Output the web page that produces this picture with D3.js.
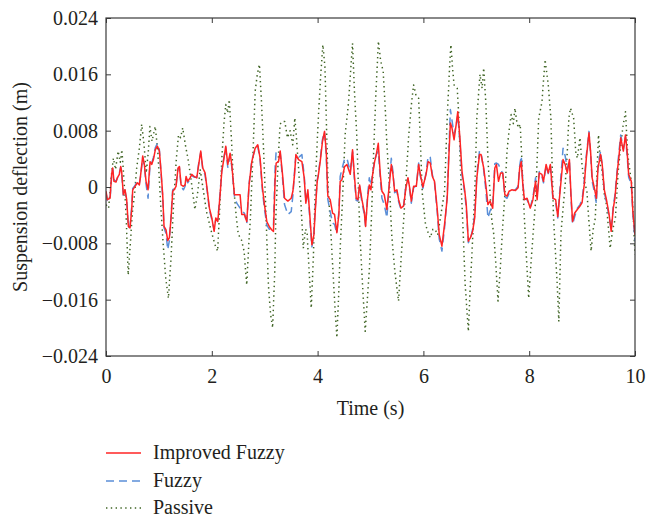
<!DOCTYPE html>
<html><head><meta charset="utf-8">
<script src="https://cdn.jsdelivr.net/npm/d3@7"></script>
<style>html,body{margin:0;padding:0;background:#fff}svg{display:block}text{font-family:"Liberation Serif","DejaVu Serif",serif;fill:#231f20}</style>
</head><body><svg id="c" width="646" height="519"></svg>
<script>
// ---- data (time s, deflection m) ----
const xTicks = [0, 2, 4, 6, 8, 10];
const yTicks = [-0.024, -0.016, -0.008, 0, 0.008, 0.016, 0.024];
const seriesNames = ["Improved Fuzzy", "Fuzzy", "Passive"];

const improvedFuzzy = [[0,-0.0006],[0.025,-0.0018],[0.076,-0.0016],[0.107,0.0018],[0.126,0.0027],[0.151,0.0008],[0.189,0.0007],[0.214,0.0013],[0.252,0.0018],[0.278,0.0029],[0.296,0.0022],[0.328,-0.0011],[0.36,-0.0004],[0.391,-0.0018],[0.423,-0.0056],[0.454,-0.0058],[0.486,-0.0032],[0.505,-0.0004],[0.549,0.0001],[0.593,0.0006],[0.631,0.0003],[0.656,0.0018],[0.694,0.0044],[0.725,0.0032],[0.757,0.0008],[0.795,-0.0004],[0.833,0.0036],[0.864,0.0032],[0.896,0.0039],[0.933,0.0053],[0.971,0.0058],[1.009,0.0051],[1.041,0.0022],[1.072,-0.0011],[1.097,-0.0056],[1.135,-0.0061],[1.167,-0.0076],[1.198,-0.0072],[1.23,-0.0044],[1.261,-0.0006],[1.287,-0.0004],[1.324,0.0001],[1.362,0.0027],[1.388,0.0029],[1.419,0.0003],[1.463,0.0001],[1.495,0.0003],[1.514,0.0015],[1.545,0.0008],[1.589,0.0013],[1.621,0.0018],[1.665,0.0015],[1.716,0.0013],[1.753,0.0032],[1.791,0.0051],[1.829,0.0027],[1.873,0.002],[1.917,-0.0006],[1.955,-0.003],[2.0,-0.0044],[2.044,-0.0063],[2.075,-0.0044],[2.113,-0.0049],[2.157,-0.0011],[2.189,0.0022],[2.22,0.0036],[2.264,0.0058],[2.302,0.0032],[2.346,0.0048],[2.377,0.0032],[2.428,-0.0011],[2.472,-0.0011],[2.535,-0.0011],[2.566,-0.0039],[2.617,-0.0039],[2.661,-0.0049],[2.705,0.0003],[2.756,0.0036],[2.819,0.0055],[2.869,0.006],[2.913,0.0041],[2.957,-0.0001],[2.995,-0.0025],[3.04,-0.0049],[3.085,-0.0056],[3.135,-0.0061],[3.166,-0.0063],[3.198,0.0013],[3.217,0.0034],[3.261,0.0036],[3.293,0.0051],[3.337,0.0018],[3.375,-0.0016],[3.438,-0.002],[3.501,-0.0016],[3.533,-0.0006],[3.564,0.0018],[3.59,0.0046],[3.64,0.0039],[3.703,0.0036],[3.747,0.0013],[3.778,-0.0023],[3.816,-0.0004],[3.848,-0.0035],[3.892,-0.0082],[3.93,-0.0068],[3.955,-0.0035],[3.993,0.0008],[4.011,0.0015],[4.049,0.0036],[4.093,0.0065],[4.131,0.0079],[4.163,0.0051],[4.194,-0.0013],[4.238,-0.0018],[4.283,-0.0037],[4.32,-0.0039],[4.364,-0.0065],[4.402,-0.0039],[4.427,0.0008],[4.459,0.001],[4.51,0.0029],[4.554,0.0032],[4.617,0.0018],[4.661,0.0053],[4.699,0.0013],[4.73,-0.0016],[4.762,-0.0018],[4.794,0.0003],[4.838,-0.0018],[4.882,-0.0035],[4.907,-0.0056],[4.945,-0.0016],[4.977,0.0003],[5.008,-0.0004],[5.04,0.0018],[5.078,0.0036],[5.109,0.0046],[5.147,0.0062],[5.185,0.0018],[5.216,-0.0006],[5.26,-0.0011],[5.31,-0.0032],[5.355,0.0003],[5.393,0.0032],[5.424,0.0018],[5.456,-0.0006],[5.5,-0.0004],[5.532,-0.0018],[5.576,-0.003],[5.626,-0.0027],[5.67,-0.0001],[5.708,0.0013],[5.74,-0.0001],[5.771,-0.002],[5.815,0.0001],[5.866,0.0001],[5.91,0.0032],[5.942,0.0018],[5.99,0],[6.05,0.0018],[6.09,0.0036],[6.13,0.0034],[6.17,0.0015],[6.21,0.0008],[6.26,-0.003],[6.3,-0.0068],[6.35,-0.0084],[6.4,-0.0053],[6.45,-0.0016],[6.48,0.0041],[6.51,0.0091],[6.54,0.0084],[6.58,0.0067],[6.62,0.0089],[6.65,0.0107],[6.69,0.007],[6.73,0.0022],[6.78,-0.0004],[6.81,-0.0025],[6.85,-0.0077],[6.89,-0.0072],[6.93,-0.0063],[6.97,-0.0044],[7.01,0.0013],[7.06,0.0046],[7.09,0.0046],[7.14,0.0027],[7.18,0.0003],[7.22,-0.0025],[7.26,-0.002],[7.31,-0.003],[7.35,0.0027],[7.38,0.0032],[7.42,0.0008],[7.46,0.002],[7.5,0.002],[7.54,-0.0011],[7.58,-0.0013],[7.62,-0.0006],[7.67,-0.0004],[7.74,-0.0005],[7.79,-0.0001],[7.82,0.0027],[7.85,0.0036],[7.88,0.0003],[7.91,-0.0018],[7.96,-0.0016],[8.02,-0.003],[8.07,-0.0018],[8.12,0.0008],[8.15,-0.0018],[8.19,0.002],[8.24,0.0018],[8.27,0.0008],[8.32,0.0032],[8.36,0.002],[8.4,0.0032],[8.45,-0.0016],[8.5,-0.0018],[8.54,-0.0042],[8.59,-0.0001],[8.64,0.0039],[8.68,0.0032],[8.72,0.002],[8.76,0.0039],[8.79,-0.0011],[8.82,-0.0049],[8.86,-0.0037],[8.91,-0.0032],[8.96,-0.0027],[9.0,-0.0022],[9.04,0.0003],[9.08,0.0041],[9.13,0.0077],[9.16,0.0051],[9.19,0.0013],[9.23,-0.0001],[9.27,-0.0016],[9.3,0.0027],[9.35,0.0046],[9.38,0.0032],[9.42,-0.0004],[9.46,-0.0018],[9.51,-0.0039],[9.55,-0.0063],[9.59,-0.003],[9.62,-0.0016],[9.66,0.0018],[9.7,0.0046],[9.73,0.007],[9.78,0.0051],[9.82,0.0074],[9.85,0.0051],[9.88,0.0018],[9.93,0.0008],[9.96,-0.0035],[10,-0.0068]];

const fuzzy = [[0,-0.0008],[0.025,-0.0019],[0.076,-0.0018],[0.107,0.0016],[0.126,0.0026],[0.151,0.001],[0.189,0.0008],[0.214,0.0012],[0.252,0.002],[0.278,0.0028],[0.296,0.002],[0.328,-0.0013],[0.36,-0.0005],[0.391,-0.002],[0.423,-0.0058],[0.454,-0.0056],[0.486,-0.0028],[0.505,-0.0002],[0.549,0.0002],[0.593,0.0009],[0.631,0.0005],[0.656,0.0016],[0.694,0.0042],[0.725,0.003],[0.757,0.0004],[0.795,-0.0016],[0.833,0.0033],[0.864,0.0034],[0.896,0.0042],[0.933,0.0056],[0.971,0.0062],[1.009,0.0053],[1.041,0.0019],[1.072,-0.0015],[1.097,-0.0058],[1.135,-0.0066],[1.167,-0.0089],[1.198,-0.0076],[1.23,-0.004],[1.261,-0.0004],[1.287,-0.0002],[1.324,0.0002],[1.362,0.0026],[1.388,0.0028],[1.419,0.0001],[1.463,-0.0004],[1.495,0.0001],[1.514,0.0012],[1.545,0.0006],[1.589,0.0011],[1.621,0.0016],[1.665,0.0014],[1.716,0.0014],[1.753,0.0034],[1.791,0.0049],[1.829,0.0025],[1.873,0.0017],[1.917,-0.0008],[1.955,-0.0033],[2.0,-0.0046],[2.044,-0.0061],[2.075,-0.0046],[2.113,-0.0047],[2.157,-0.0008],[2.189,0.0024],[2.22,0.0038],[2.264,0.0056],[2.302,0.0028],[2.346,0.0044],[2.377,0.0029],[2.428,-0.0013],[2.472,-0.0023],[2.535,-0.003],[2.566,-0.0035],[2.617,-0.0037],[2.661,-0.0052],[2.705,0.0005],[2.756,0.0038],[2.819,0.0054],[2.869,0.0058],[2.913,0.0038],[2.957,-0.0005],[2.995,-0.0031],[3.04,-0.0054],[3.085,-0.006],[3.135,-0.0058],[3.166,-0.0055],[3.198,0.003],[3.217,0.0051],[3.261,0.0048],[3.293,0.0049],[3.337,0.0012],[3.375,-0.0025],[3.438,-0.0039],[3.501,-0.0035],[3.533,-0.0012],[3.564,0.0022],[3.59,0.0046],[3.64,0.0042],[3.703,0.0046],[3.747,0.0016],[3.778,-0.0021],[3.816,-0.0006],[3.848,-0.004],[3.892,-0.0085],[3.93,-0.0064],[3.955,-0.003],[3.993,0.001],[4.011,0.0017],[4.049,0.0039],[4.093,0.0068],[4.131,0.0078],[4.163,0.0045],[4.194,-0.0018],[4.238,-0.0035],[4.283,-0.0051],[4.32,-0.0053],[4.364,-0.0066],[4.402,-0.0035],[4.427,0.0015],[4.459,0.0025],[4.51,0.004],[4.554,0.0041],[4.617,0.0022],[4.661,0.005],[4.699,0.0008],[4.73,-0.0019],[4.762,-0.002],[4.794,0.0001],[4.838,-0.0022],[4.882,-0.0039],[4.907,-0.0055],[4.945,-0.0012],[4.977,0.0013],[5.008,0.0002],[5.04,0.002],[5.078,0.0038],[5.109,0.0046],[5.147,0.0051],[5.185,0.0012],[5.216,-0.0016],[5.26,-0.0025],[5.31,-0.0044],[5.355,0.0005],[5.393,0.0041],[5.424,0.0022],[5.456,-0.0008],[5.5,-0.0006],[5.532,-0.0021],[5.576,-0.0032],[5.626,-0.0026],[5.67,0.0002],[5.708,0.0012],[5.74,-0.0004],[5.771,-0.0023],[5.815,-0.0001],[5.866,0.0002],[5.91,0.0034],[5.942,0.0015],[5.99,-0.0002],[6.05,0.002],[6.09,0.0044],[6.13,0.0042],[6.17,0.0017],[6.21,0.0006],[6.26,-0.0034],[6.3,-0.0074],[6.35,-0.0091],[6.4,-0.0058],[6.45,-0.0012],[6.48,0.0048],[6.51,0.011],[6.54,0.0095],[6.58,0.0075],[6.62,0.0088],[6.65,0.0102],[6.69,0.0064],[6.73,0.0016],[6.78,-0.0008],[6.81,-0.003],[6.85,-0.0079],[6.89,-0.0074],[6.93,-0.006],[6.97,-0.004],[7.01,0.0018],[7.06,0.0051],[7.09,0.0049],[7.14,0.0024],[7.18,-0.0004],[7.22,-0.0044],[7.26,-0.0034],[7.31,-0.0028],[7.35,0.0033],[7.38,0.0034],[7.42,0.0032],[7.46,0.0025],[7.5,0.0019],[7.54,-0.0014],[7.58,-0.0016],[7.62,-0.0009],[7.67,-0.0006],[7.74,-0.0004],[7.79,0.0001],[7.82,0.003],[7.85,0.0044],[7.88,0.0006],[7.91,-0.0017],[7.96,-0.0018],[8.02,-0.0029],[8.07,-0.0015],[8.12,0.0013],[8.15,-0.0012],[8.19,0.0022],[8.24,0.0015],[8.27,0.0006],[8.32,0.003],[8.36,0.0019],[8.4,0.003],[8.45,-0.0019],[8.5,-0.0022],[8.54,-0.0044],[8.59,0.0006],[8.64,0.0055],[8.68,0.0044],[8.72,0.0026],[8.76,0.0038],[8.79,-0.0016],[8.82,-0.0053],[8.86,-0.0042],[8.91,-0.003],[8.96,-0.0025],[9.0,-0.0018],[9.04,0.0008],[9.08,0.0045],[9.13,0.0079],[9.16,0.0048],[9.19,0.0008],[9.23,-0.0006],[9.27,-0.0023],[9.3,0.0032],[9.35,0.0051],[9.38,0.003],[9.42,-0.0008],[9.46,-0.0021],[9.51,-0.0042],[9.55,-0.0061],[9.59,-0.0026],[9.62,-0.0012],[9.66,0.0022],[9.7,0.0052],[9.73,0.0074],[9.78,0.0054],[9.82,0.0071],[9.85,0.0046],[9.88,0.0014],[9.93,0.0004],[9.96,-0.0039],[10,-0.0077]];

const passive = [[0,-0.0025],[0.05,-0.003],[0.1,0.0015],[0.14,0.0041],[0.18,0.0025],[0.23,0.0051],[0.27,0.0035],[0.3,0.0053],[0.34,0.001],[0.38,-0.004],[0.42,-0.0125],[0.46,-0.008],[0.5,-0.0035],[0.54,-0.001],[0.58,0.0027],[0.63,0.0055],[0.675,0.0089],[0.72,0.006],[0.76,0.002],[0.8,0.005],[0.83,0.0086],[0.87,0.0065],[0.93,0.0086],[0.98,0.005],[1.03,-0.002],[1.08,-0.008],[1.13,-0.013],[1.18,-0.0158],[1.23,-0.01],[1.28,-0.002],[1.33,0.004],[1.37,0.0074],[1.41,0.007],[1.45,0.0084],[1.5,0.006],[1.55,0.004],[1.6,0.0015],[1.68,-0.0032],[1.73,-0.001],[1.78,0.0025],[1.82,0.0005],[1.9,-0.0035],[1.98,-0.006],[2.06,-0.0082],[2.11,-0.0091],[2.15,-0.003],[2.19,0.0041],[2.23,0.009],[2.264,0.0117],[2.3,0.0105],[2.33,0.0124],[2.37,0.007],[2.41,0.0003],[2.46,-0.004],[2.5,-0.0067],[2.56,-0.0075],[2.61,-0.0091],[2.66,-0.0139],[2.7,-0.008],[2.73,-0.0044],[2.78,0.005],[2.82,0.0136],[2.86,0.016],[2.9,0.0174],[2.94,0.012],[2.98,0.0051],[3.02,-0.003],[3.07,-0.0139],[3.11,-0.018],[3.15,-0.02],[3.19,-0.012],[3.21,-0.0044],[3.25,0.003],[3.29,0.0089],[3.33,0.0093],[3.38,0.0093],[3.43,0.007],[3.48,0.008],[3.53,0.006],[3.57,0.0098],[3.6,0.007],[3.64,0.0027],[3.69,-0.003],[3.73,-0.0087],[3.77,-0.006],[3.8,-0.0063],[3.84,-0.012],[3.88,-0.0172],[3.92,-0.01],[3.955,-0.0003],[3.99,0.006],[4.02,0.0107],[4.06,0.016],[4.1,0.0202],[4.14,0.0169],[4.17,0.008],[4.2,-0.0003],[4.24,-0.005],[4.27,-0.0091],[4.32,-0.016],[4.364,-0.0214],[4.4,-0.015],[4.43,-0.0082],[4.47,-0.002],[4.52,0.0074],[4.585,0.012],[4.62,0.016],[4.66,0.0204],[4.7,0.013],[4.74,0.0074],[4.8,-0.0068],[4.85,-0.014],[4.9,-0.0205],[4.94,-0.016],[4.98,-0.0115],[5.02,-0.004],[5.06,0.0051],[5.1,0.013],[5.15,0.0207],[5.19,0.018],[5.24,0.0164],[5.28,0.011],[5.31,0.006],[5.36,0],[5.4,-0.0067],[5.46,-0.012],[5.53,-0.0162],[5.58,-0.01],[5.63,-0.0044],[5.68,0.002],[5.72,0.007],[5.77,0.0115],[5.815,0.0145],[5.86,0.013],[5.91,0.0126],[5.95,0.005],[5.98,-0.001],[6.04,-0.0053],[6.09,-0.0065],[6.13,-0.0072],[6.18,-0.006],[6.22,-0.006],[6.27,-0.0068],[6.33,-0.004],[6.4,-0.0006],[6.45,0.0098],[6.5,0.0178],[6.52,0.0202],[6.55,0.017],[6.58,0.0145],[6.64,0.014],[6.67,0.01],[6.7,0.0027],[6.75,-0.006],[6.79,-0.0139],[6.85,-0.0205],[6.88,-0.015],[6.92,-0.0091],[6.97,-0.001],[7.01,0.0098],[7.07,0.016],[7.11,0.014],[7.14,0.0169],[7.18,0.012],[7.22,0.004],[7.25,0.0003],[7.29,-0.0045],[7.33,-0.0067],[7.37,-0.011],[7.41,-0.0162],[7.45,-0.012],[7.49,-0.0067],[7.54,-0.001],[7.58,0.0051],[7.62,0.008],[7.66,0.0103],[7.7,0.009],[7.73,0.0112],[7.77,0.009],[7.8,0.0084],[7.83,0.0089],[7.86,0.004],[7.9,-0.003],[7.93,-0.0076],[7.99,-0.0158],[8.05,-0.0091],[8.12,-0.002],[8.18,0.0098],[8.24,0.012],[8.3,0.0181],[8.36,0.0145],[8.41,0.0098],[8.46,-0.0044],[8.53,-0.0139],[8.56,-0.0191],[8.6,-0.0067],[8.64,-0.003],[8.68,0.0003],[8.72,0.005],[8.75,0.0098],[8.78,0.0112],[8.84,0.0098],[8.88,0.005],[8.91,0.0041],[8.96,0.007],[9.0,0.003],[9.03,0.0013],[9.09,-0.0006],[9.13,-0.005],[9.17,-0.0091],[9.21,-0.006],[9.25,-0.0044],[9.28,0.002],[9.31,0.0074],[9.35,0.003],[9.37,0.0027],[9.42,-0.001],[9.46,-0.0025],[9.5,-0.006],[9.53,-0.0087],[9.58,-0.006],[9.63,-0.0044],[9.68,0.002],[9.72,0.0051],[9.77,0.0085],[9.82,0.0107],[9.86,0.005],[9.88,0.0036],[9.94,0.0003],[10,-0.0096]];

// ---- layout ----
const svg = d3.select("#c");
const L = 106, R = 635, T = 18, B = 356;
const x = d3.scaleLinear().domain([0, 10]).range([L, R]);
const y = d3.scaleLinear().domain([-0.024, 0.024]).range([B, T]);
const fmtY = d => d === 0 ? "0" : d3.format(".3f")(d).replace("-", "\u2212");

svg.append("defs").append("clipPath").attr("id", "clip")
  .append("rect").attr("x", L).attr("y", T).attr("width", R - L).attr("height", B - T);

const line = d3.line().x(d => x(d[0])).y(d => y(d[1]));
const styles = [
  {data: passive, color: "#3f6424", dash: "1.4,3.4", w: 1.5},
  {data: fuzzy, color: "#5b8fd8", dash: "8,5", w: 1.5},
  {data: improvedFuzzy, color: "#ff2424", dash: null, w: 1.5}
];
const g = svg.append("g").attr("clip-path", "url(#clip)");
styles.forEach(s => {
  g.append("path").datum(s.data).attr("d", line).attr("fill", "none")
    .attr("stroke", s.color).attr("stroke-width", s.w)
    .attr("stroke-dasharray", s.dash).attr("stroke-linejoin", "round");
});

// axes (ticks inward)
function styleAxis(sel) {
  sel.select(".domain").remove();
  sel.selectAll(".tick line").attr("stroke", "#3a3a3a").attr("stroke-width", 1);
  sel.selectAll(".tick text").style("font-family", '"Liberation Serif", serif')
    .style("font-size", "20px").attr("fill", "#231f20");
}
svg.append("g").attr("transform", `translate(0,${B})`)
  .call(d3.axisBottom(x).tickValues(xTicks).tickSize(-5).tickPadding(13).tickFormat(d3.format("d")))
  .call(styleAxis);
svg.append("g").attr("transform", `translate(0,${T})`)
  .call(d3.axisTop(x).tickValues(xTicks).tickSize(-5).tickFormat(""))
  .call(styleAxis);
svg.append("g").attr("transform", `translate(${L},0)`)
  .call(d3.axisLeft(y).tickValues(yTicks).tickSize(-5).tickPadding(8).tickFormat(fmtY))
  .call(styleAxis);
svg.append("g").attr("transform", `translate(${R},0)`)
  .call(d3.axisRight(y).tickValues(yTicks).tickSize(-5).tickFormat(""))
  .call(styleAxis);

svg.append("rect").attr("x", L).attr("y", T).attr("width", R - L).attr("height", B - T)
  .attr("fill", "none").attr("stroke", "#3a3a3a").attr("stroke-width", 1.2);

// titles
svg.append("text").attr("x", (L + R) / 2).attr("y", 415).attr("text-anchor", "middle")
  .style("font-size", "20px").text("Time (s)");
svg.append("text").attr("transform", `translate(27,${(T + B) / 2}) rotate(-90)`)
  .attr("text-anchor", "middle").style("font-size", "20px").text("Suspension deflection (m)");

// legend
const legY = [453, 481, 508];
const legOrder = [styles[2], styles[1], styles[0]];
seriesNames.forEach((n, i) => {
  const s = legOrder[i];
  svg.append("line").attr("x1", 106).attr("x2", 141).attr("y1", legY[i]).attr("y2", legY[i])
    .attr("stroke", s.color).attr("stroke-width", s.w).attr("stroke-dasharray", s.dash);
  svg.append("text").attr("x", 153).attr("y", legY[i] + 5.5).style("font-size", "20px").text(n);
});
</script></body></html>
